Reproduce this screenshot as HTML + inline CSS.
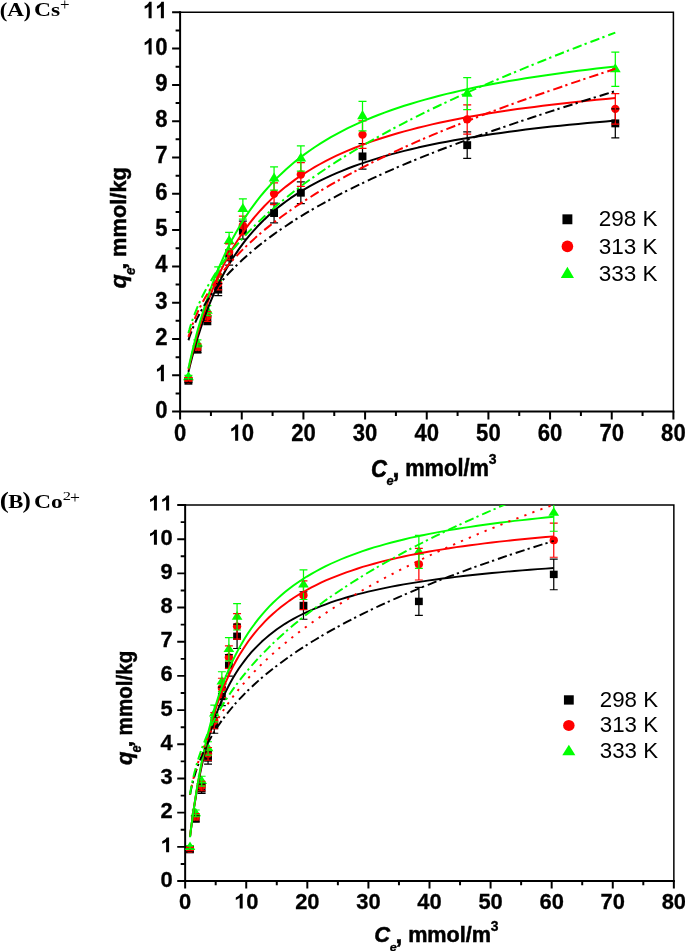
<!DOCTYPE html>
<html><head><meta charset="utf-8"><title>Adsorption isotherms</title>
<style>
html,body{margin:0;padding:0;background:#fff;}
body{width:685px;height:951px;overflow:hidden;position:relative;font-family:"Liberation Sans",sans-serif;}
svg{position:absolute;left:0;top:0;display:block;will-change:transform;}
.tl{font-family:"Liberation Sans",sans-serif;font-weight:bold;font-size:22.8px;fill:#000;stroke:#000;stroke-width:0.3px;}
.b{font-family:"Liberation Sans",sans-serif;font-weight:bold;font-size:20px;fill:#000;stroke:#000;stroke-width:0.45px;}
.bi{font-family:"Liberation Sans",sans-serif;font-weight:bold;font-style:italic;font-size:20px;fill:#000;stroke:#000;stroke-width:0.45px;}
.lg{font-family:"Liberation Sans",sans-serif;font-size:22.5px;fill:#000;}
.pl{font-family:"Liberation Serif",serif;font-weight:bold;font-size:20px;fill:#000;}
.pn{font-family:"Liberation Serif",serif;font-weight:normal;font-size:20px;fill:#000;}
</style></head><body>
<svg width="685" height="951" viewBox="0 0 685 951">
<defs><clipPath id="clipA"><rect x="180.1" y="12.3" width="493.30" height="399.30"/></clipPath></defs>
<rect width="685" height="951" fill="#fff"/>
<g id="plotA">
<path d="M180.10,12.30H673.40V411.60" stroke="#000" stroke-width="1.5" fill="none"/>
<path d="M172.10,411.60H180.10M175.60,393.45H180.10M172.10,375.30H180.10M175.60,357.15H180.10M172.10,339.00H180.10M175.60,320.85H180.10M172.10,302.70H180.10M175.60,284.55H180.10M172.10,266.40H180.10M175.60,248.25H180.10M172.10,230.10H180.10M175.60,211.95H180.10M172.10,193.80H180.10M175.60,175.65H180.10M172.10,157.50H180.10M175.60,139.35H180.10M172.10,121.20H180.10M175.60,103.05H180.10M172.10,84.90H180.10M175.60,66.75H180.10M172.10,48.60H180.10M175.60,30.45H180.10M172.10,12.30H180.10M180.10,411.60V419.60M210.93,411.60V416.10M241.76,411.60V419.60M272.59,411.60V416.10M303.42,411.60V419.60M334.26,411.60V416.10M365.09,411.60V419.60M395.92,411.60V416.10M426.75,411.60V419.60M457.58,411.60V416.10M488.41,411.60V419.60M519.24,411.60V416.10M550.07,411.60V419.60M580.91,411.60V416.10M611.74,411.60V419.60M642.57,411.60V416.10M673.40,411.60V419.60" stroke="#000" stroke-width="2" fill="none"/>
<path d="M180.10,12.30V411.60H673.40" stroke="#000" stroke-width="2" fill="none" stroke-linecap="square"/>
<text transform="translate(155.20,417.55) scale(0.97,1.0850)" class="tl">0</text>
<path transform="translate(155.20,381.25) scale(22.116,22.800)" d="M0.3936,0H0.2563V-0.517Q0.181,-0.4468 0.0791,-0.413V-0.5376Q0.1328,-0.555 0.1958,-0.604Q0.2588,-0.653 0.2822,-0.7188H0.3936Z" fill="#000"/>
<text transform="translate(155.20,344.95) scale(0.97,1.0850)" class="tl">2</text>
<text transform="translate(155.20,308.65) scale(0.97,1.0850)" class="tl">3</text>
<text transform="translate(155.20,272.35) scale(0.97,1.0850)" class="tl">4</text>
<text transform="translate(155.20,236.05) scale(0.97,1.0850)" class="tl">5</text>
<text transform="translate(155.20,199.75) scale(0.97,1.0850)" class="tl">6</text>
<text transform="translate(155.20,163.45) scale(0.97,1.0850)" class="tl">7</text>
<text transform="translate(155.20,127.15) scale(0.97,1.0850)" class="tl">8</text>
<text transform="translate(155.20,90.85) scale(0.97,1.0850)" class="tl">9</text>
<path transform="translate(142.91,54.55) scale(22.116,22.800)" d="M0.3936,0H0.2563V-0.517Q0.181,-0.4468 0.0791,-0.413V-0.5376Q0.1328,-0.555 0.1958,-0.604Q0.2588,-0.653 0.2822,-0.7188H0.3936Z" fill="#000"/><text transform="translate(155.20,54.55) scale(0.97,1.0850)" class="tl">0</text>
<path transform="translate(142.91,18.25) scale(22.116,22.800)" d="M0.3936,0H0.2563V-0.517Q0.181,-0.4468 0.0791,-0.413V-0.5376Q0.1328,-0.555 0.1958,-0.604Q0.2588,-0.653 0.2822,-0.7188H0.3936Z" fill="#000"/><path transform="translate(155.20,18.25) scale(22.116,22.800)" d="M0.3936,0H0.2563V-0.517Q0.181,-0.4468 0.0791,-0.413V-0.5376Q0.1328,-0.555 0.1958,-0.604Q0.2588,-0.653 0.2822,-0.7188H0.3936Z" fill="#000"/>
<text transform="translate(173.95,440.80) scale(0.97,1.0850)" class="tl">0</text>
<path transform="translate(229.47,440.80) scale(22.116,22.800)" d="M0.3936,0H0.2563V-0.517Q0.181,-0.4468 0.0791,-0.413V-0.5376Q0.1328,-0.555 0.1958,-0.604Q0.2588,-0.653 0.2822,-0.7188H0.3936Z" fill="#000"/><text transform="translate(241.76,440.80) scale(0.97,1.0850)" class="tl">0</text>
<text transform="translate(291.13,440.80) scale(0.97,1.0850)" class="tl">2</text><text transform="translate(303.42,440.80) scale(0.97,1.0850)" class="tl">0</text>
<text transform="translate(352.79,440.80) scale(0.97,1.0850)" class="tl">3</text><text transform="translate(365.09,440.80) scale(0.97,1.0850)" class="tl">0</text>
<text transform="translate(414.45,440.80) scale(0.97,1.0850)" class="tl">4</text><text transform="translate(426.75,440.80) scale(0.97,1.0850)" class="tl">0</text>
<text transform="translate(476.12,440.80) scale(0.97,1.0850)" class="tl">5</text><text transform="translate(488.41,440.80) scale(0.97,1.0850)" class="tl">0</text>
<text transform="translate(537.78,440.80) scale(0.97,1.0850)" class="tl">6</text><text transform="translate(550.07,440.80) scale(0.97,1.0850)" class="tl">0</text>
<text transform="translate(599.44,440.80) scale(0.97,1.0850)" class="tl">7</text><text transform="translate(611.74,440.80) scale(0.97,1.0850)" class="tl">0</text>
<text transform="translate(661.10,440.80) scale(0.97,1.0850)" class="tl">8</text><text transform="translate(673.40,440.80) scale(0.97,1.0850)" class="tl">0</text>
<g clip-path="url(#clipA)">
<rect x="184.47" y="376.80" width="7.90" height="7.90" fill="#000000"/>
<rect x="193.48" y="345.58" width="7.90" height="7.90" fill="#000000"/>
<rect x="203.40" y="316.17" width="7.90" height="7.90" fill="#000000"/>
<rect x="214.26" y="285.68" width="7.90" height="7.90" fill="#000000"/>
<rect x="225.17" y="253.38" width="7.90" height="7.90" fill="#000000"/>
<rect x="238.92" y="226.15" width="7.90" height="7.90" fill="#000000"/>
<rect x="270.12" y="209.09" width="7.90" height="7.90" fill="#000000"/>
<rect x="296.89" y="188.76" width="7.90" height="7.90" fill="#000000"/>
<rect x="358.55" y="152.46" width="7.90" height="7.90" fill="#000000"/>
<rect x="463.25" y="141.21" width="7.90" height="7.90" fill="#000000"/>
<rect x="611.36" y="119.43" width="7.90" height="7.90" fill="#000000"/>
<circle cx="188.42" cy="379.29" r="4.20" fill="#ff0000"/>
<circle cx="197.43" cy="346.99" r="4.20" fill="#ff0000"/>
<circle cx="207.35" cy="316.49" r="4.20" fill="#ff0000"/>
<circle cx="218.21" cy="283.46" r="4.20" fill="#ff0000"/>
<circle cx="229.12" cy="251.88" r="4.20" fill="#ff0000"/>
<circle cx="242.87" cy="225.38" r="4.20" fill="#ff0000"/>
<circle cx="274.07" cy="193.80" r="4.20" fill="#ff0000"/>
<circle cx="300.84" cy="174.56" r="4.20" fill="#ff0000"/>
<circle cx="362.50" cy="134.63" r="4.20" fill="#ff0000"/>
<circle cx="467.20" cy="119.38" r="4.20" fill="#ff0000"/>
<circle cx="615.31" cy="108.86" r="4.20" fill="#ff0000"/>
<path d="M188.42,371.05 L193.82,380.15 L183.02,380.15Z" fill="#00ff00"/>
<path d="M197.43,337.29 L202.83,346.39 L192.03,346.39Z" fill="#00ff00"/>
<path d="M207.35,304.62 L212.75,313.72 L201.95,313.72Z" fill="#00ff00"/>
<path d="M218.21,267.59 L223.61,276.69 L212.81,276.69Z" fill="#00ff00"/>
<path d="M229.12,234.92 L234.52,244.02 L223.72,244.02Z" fill="#00ff00"/>
<path d="M242.87,202.98 L248.27,212.08 L237.47,212.08Z" fill="#00ff00"/>
<path d="M274.07,172.49 L279.47,181.59 L268.67,181.59Z" fill="#00ff00"/>
<path d="M300.84,152.52 L306.24,161.62 L295.44,161.62Z" fill="#00ff00"/>
<path d="M362.50,110.05 L367.90,119.15 L357.10,119.15Z" fill="#00ff00"/>
<path d="M467.20,87.55 L472.60,96.65 L461.80,96.65Z" fill="#00ff00"/>
<path d="M615.31,63.22 L620.71,72.32 L609.91,72.32Z" fill="#00ff00"/>
<path d="M188.42,379.20V382.29M184.42,379.20H192.42M184.42,382.29H192.42" stroke="#000000" stroke-width="1.25" fill="none"/>
<path d="M197.43,346.42V352.63M193.43,346.42H201.43M193.43,352.63H201.43" stroke="#000000" stroke-width="1.25" fill="none"/>
<path d="M207.35,315.55V324.70M203.35,315.55H211.35M203.35,324.70H211.35" stroke="#000000" stroke-width="1.25" fill="none"/>
<path d="M218.21,283.53V295.73M214.21,283.53H222.21M214.21,295.73H222.21" stroke="#000000" stroke-width="1.25" fill="none"/>
<path d="M229.12,249.61V265.04M225.12,249.61H233.12M225.12,265.04H233.12" stroke="#000000" stroke-width="1.25" fill="none"/>
<path d="M242.87,221.03V239.17M238.87,221.03H246.87M238.87,239.17H246.87" stroke="#000000" stroke-width="1.25" fill="none"/>
<path d="M274.07,203.11V222.97M270.07,203.11H278.07M270.07,222.97H278.07" stroke="#000000" stroke-width="1.25" fill="none"/>
<path d="M300.84,181.77V203.66M296.84,181.77H304.84M296.84,203.66H304.84" stroke="#000000" stroke-width="1.25" fill="none"/>
<path d="M362.50,143.65V169.17M358.50,143.65H366.50M358.50,169.17H366.50" stroke="#000000" stroke-width="1.25" fill="none"/>
<path d="M467.20,131.84V158.48M463.20,131.84H471.20M463.20,158.48H471.20" stroke="#000000" stroke-width="1.25" fill="none"/>
<path d="M615.31,108.97V137.79M611.31,108.97H619.31M611.31,137.79H619.31" stroke="#000000" stroke-width="1.25" fill="none"/>
<path d="M188.42,377.68V380.91M184.42,377.68H192.42M184.42,380.91H192.42" stroke="#ff0000" stroke-width="1.25" fill="none"/>
<path d="M197.43,343.76V350.22M193.43,343.76H201.43M193.43,350.22H201.43" stroke="#ff0000" stroke-width="1.25" fill="none"/>
<path d="M207.35,311.74V321.25M203.35,311.74H211.35M203.35,321.25H211.35" stroke="#ff0000" stroke-width="1.25" fill="none"/>
<path d="M218.21,277.05V289.87M214.21,277.05H222.21M214.21,289.87H222.21" stroke="#ff0000" stroke-width="1.25" fill="none"/>
<path d="M229.12,243.89V259.87M225.12,243.89H233.12M225.12,259.87H233.12" stroke="#ff0000" stroke-width="1.25" fill="none"/>
<path d="M242.87,216.07V234.69M238.87,216.07H246.87M238.87,234.69H246.87" stroke="#ff0000" stroke-width="1.25" fill="none"/>
<path d="M274.07,182.91V204.69M270.07,182.91H278.07M270.07,204.69H278.07" stroke="#ff0000" stroke-width="1.25" fill="none"/>
<path d="M300.84,162.71V186.41M296.84,162.71H304.84M296.84,186.41H304.84" stroke="#ff0000" stroke-width="1.25" fill="none"/>
<path d="M362.50,120.78V148.48M358.50,120.78H366.50M358.50,148.48H366.50" stroke="#ff0000" stroke-width="1.25" fill="none"/>
<path d="M467.20,104.77V134.00M463.20,104.77H471.20M463.20,134.00H471.20" stroke="#ff0000" stroke-width="1.25" fill="none"/>
<path d="M615.31,93.72V124.00M611.31,93.72H619.31M611.31,124.00H619.31" stroke="#ff0000" stroke-width="1.25" fill="none"/>
<path d="M188.42,375.39V378.84M184.42,375.39H192.42M184.42,378.84H192.42" stroke="#00ff00" stroke-width="1.25" fill="none"/>
<path d="M197.43,339.94V346.77M193.43,339.94H201.43M193.43,346.77H201.43" stroke="#00ff00" stroke-width="1.25" fill="none"/>
<path d="M207.35,305.64V315.73M203.35,305.64H211.35M203.35,315.73H211.35" stroke="#00ff00" stroke-width="1.25" fill="none"/>
<path d="M218.21,266.76V280.56M214.21,266.76H222.21M214.21,280.56H222.21" stroke="#00ff00" stroke-width="1.25" fill="none"/>
<path d="M229.12,232.46V249.52M225.12,232.46H233.12M225.12,249.52H233.12" stroke="#00ff00" stroke-width="1.25" fill="none"/>
<path d="M242.87,198.92V219.17M238.87,198.92H246.87M238.87,219.17H246.87" stroke="#00ff00" stroke-width="1.25" fill="none"/>
<path d="M274.07,166.90V190.21M270.07,166.90H278.07M270.07,190.21H278.07" stroke="#00ff00" stroke-width="1.25" fill="none"/>
<path d="M300.84,145.94V171.24M296.84,145.94H304.84M296.84,171.24H304.84" stroke="#00ff00" stroke-width="1.25" fill="none"/>
<path d="M362.50,101.34V130.89M358.50,101.34H366.50M358.50,130.89H366.50" stroke="#00ff00" stroke-width="1.25" fill="none"/>
<path d="M467.20,77.71V109.51M463.20,77.71H471.20M463.20,109.51H471.20" stroke="#00ff00" stroke-width="1.25" fill="none"/>
<path d="M615.31,52.18V86.41M611.31,52.18H619.31M611.31,86.41H619.31" stroke="#00ff00" stroke-width="1.25" fill="none"/>
<path d="M188.4,372.0L188.5,371.7L188.6,371.1L188.9,370.0L189.3,368.5L189.7,366.5L190.3,364.2L191.0,361.5L191.8,358.5L192.7,355.1L193.7,351.4L194.8,347.5L196.0,343.3L197.3,338.8L198.8,334.2L200.3,329.5L201.9,324.6L203.7,319.5L205.5,314.4L207.5,309.3L209.5,304.1L211.7,298.9L213.9,293.6L216.3,288.4L218.8,283.3L221.4,278.1L224.1,273.1L226.8,268.1L229.7,263.2L232.7,258.3L235.9,253.6L239.1,248.9L242.4,244.4L245.8,239.9L249.3,235.6L253.0,231.4L256.7,227.3L260.6,223.3L264.5,219.4L268.6,215.6L272.7,211.9L277.0,208.3L281.4,204.9L285.9,201.5L290.5,198.2L295.1,195.1L299.9,192.0L304.8,189.1L309.9,186.2L315.0,183.4L320.2,180.7L325.5,178.1L330.9,175.6L336.5,173.2L342.1,170.8L347.8,168.5L353.7,166.3L359.7,164.1L365.7,162.1L371.9,160.1L378.2,158.1L384.5,156.2L391.0,154.4L397.6,152.6L404.3,150.9L411.1,149.3L418.0,147.6L425.0,146.1L432.1,144.6L439.3,143.1L446.7,141.7L454.1,140.3L461.6,139.0L469.3,137.7L477.0,136.4L484.9,135.2L492.8,134.0L500.9,132.9L509.1,131.8L517.3,130.7L525.7,129.6L534.2,128.6L542.8,127.6L551.5,126.6L560.3,125.7L569.2,124.8L578.2,123.9L587.3,123.0L596.6,122.2L605.9,121.4L615.3,120.6" stroke="#000000" stroke-width="2.0" fill="none" stroke-linejoin="round"/>
<path d="M188.4,369.7L188.5,369.5L188.6,368.8L188.9,367.6L189.3,366.0L189.7,363.9L190.3,361.5L191.0,358.6L191.8,355.4L192.7,351.8L193.7,347.9L194.8,343.7L196.0,339.2L197.3,334.5L198.8,329.6L200.3,324.5L201.9,319.3L203.7,313.9L205.5,308.4L207.5,302.9L209.5,297.4L211.7,291.8L213.9,286.2L216.3,280.6L218.8,275.0L221.4,269.5L224.1,264.1L226.8,258.7L229.7,253.4L232.7,248.2L235.9,243.0L239.1,238.0L242.4,233.1L245.8,228.3L249.3,223.6L253.0,219.0L256.7,214.6L260.6,210.2L264.5,206.0L268.6,201.9L272.7,197.9L277.0,194.0L281.4,190.3L285.9,186.6L290.5,183.1L295.1,179.6L299.9,176.3L304.8,173.1L309.9,170.0L315.0,166.9L320.2,164.0L325.5,161.1L330.9,158.4L336.5,155.7L342.1,153.1L347.8,150.6L353.7,148.2L359.7,145.9L365.7,143.6L371.9,141.4L378.2,139.3L384.5,137.2L391.0,135.2L397.6,133.3L404.3,131.4L411.1,129.6L418.0,127.8L425.0,126.1L432.1,124.4L439.3,122.8L446.7,121.3L454.1,119.7L461.6,118.3L469.3,116.8L477.0,115.5L484.9,114.1L492.8,112.8L500.9,111.6L509.1,110.3L517.3,109.1L525.7,108.0L534.2,106.9L542.8,105.8L551.5,104.7L560.3,103.7L569.2,102.7L578.2,101.7L587.3,100.7L596.6,99.8L605.9,98.9L615.3,98.0" stroke="#ff0000" stroke-width="2.0" fill="none" stroke-linejoin="round"/>
<path d="M188.4,368.5L188.5,368.3L188.6,367.5L188.9,366.3L189.3,364.7L189.7,362.5L190.3,360.0L191.0,357.0L191.8,353.6L192.7,349.8L193.7,345.7L194.8,341.3L196.0,336.6L197.3,331.6L198.8,326.4L200.3,321.0L201.9,315.5L203.7,309.7L205.5,303.9L207.5,298.0L209.5,292.0L211.7,286.0L213.9,279.9L216.3,273.9L218.8,267.9L221.4,261.9L224.1,255.9L226.8,250.0L229.7,244.2L232.7,238.4L235.9,232.8L239.1,227.2L242.4,221.8L245.8,216.4L249.3,211.2L253.0,206.1L256.7,201.1L260.6,196.2L264.5,191.5L268.6,186.8L272.7,182.3L277.0,177.9L281.4,173.7L285.9,169.5L290.5,165.5L295.1,161.6L299.9,157.8L304.8,154.1L309.9,150.5L315.0,147.0L320.2,143.6L325.5,140.4L330.9,137.2L336.5,134.1L342.1,131.1L347.8,128.2L353.7,125.4L359.7,122.7L365.7,120.1L371.9,117.5L378.2,115.0L384.5,112.6L391.0,110.3L397.6,108.0L404.3,105.8L411.1,103.7L418.0,101.6L425.0,99.6L432.1,97.7L439.3,95.8L446.7,93.9L454.1,92.2L461.6,90.4L469.3,88.8L477.0,87.1L484.9,85.6L492.8,84.0L500.9,82.5L509.1,81.1L517.3,79.7L525.7,78.3L534.2,77.0L542.8,75.7L551.5,74.4L560.3,73.2L569.2,72.0L578.2,70.8L587.3,69.7L596.6,68.6L605.9,67.5L615.3,66.5" stroke="#00ff00" stroke-width="2.0" fill="none" stroke-linejoin="round"/>
<path d="M188.4,340.3L188.5,340.1L188.6,339.6L188.9,338.8L189.3,337.7L189.7,336.3L190.3,334.6L191.0,332.8L191.8,330.7L192.7,328.4L193.7,326.0L194.8,323.5L196.0,320.8L197.3,318.1L198.8,315.3L200.3,312.4L201.9,309.4L203.7,306.4L205.5,303.4L207.5,300.4L209.5,297.3L211.7,294.2L213.9,291.1L216.3,288.0L218.8,284.8L221.4,281.7L224.1,278.6L226.8,275.4L229.7,272.3L232.7,269.2L235.9,266.0L239.1,262.9L242.4,259.8L245.8,256.7L249.3,253.6L253.0,250.5L256.7,247.4L260.6,244.3L264.5,241.2L268.6,238.1L272.7,235.1L277.0,232.0L281.4,229.0L285.9,226.0L290.5,222.9L295.1,219.9L299.9,216.9L304.8,213.9L309.9,210.9L315.0,208.0L320.2,205.0L325.5,202.0L330.9,199.1L336.5,196.2L342.1,193.2L347.8,190.3L353.7,187.4L359.7,184.5L365.7,181.6L371.9,178.7L378.2,175.8L384.5,172.9L391.0,170.1L397.6,167.2L404.3,164.4L411.1,161.5L418.0,158.7L425.0,155.9L432.1,153.1L439.3,150.3L446.7,147.5L454.1,144.7L461.6,141.9L469.3,139.1L477.0,136.3L484.9,133.6L492.8,130.8L500.9,128.0L509.1,125.2L517.3,122.4L525.7,119.6L534.2,116.8L542.8,114.0L551.5,111.1L560.3,108.3L569.2,105.5L578.2,102.6L587.3,99.8L596.6,96.9L605.9,94.0L615.3,91.1" stroke="#000000" stroke-width="2.0" fill="none" stroke-linejoin="round" stroke-dasharray="9.5 3.2 2.3 4"/>
<path d="M188.4,336.9L188.5,336.7L188.6,336.1L188.9,335.3L189.3,334.0L189.7,332.5L190.3,330.7L191.0,328.7L191.8,326.5L192.7,324.0L193.7,321.4L194.8,318.7L196.0,315.8L197.3,312.8L198.8,309.8L200.3,306.7L201.9,303.5L203.7,300.3L205.5,297.0L207.5,293.7L209.5,290.4L211.7,287.0L213.9,283.7L216.3,280.3L218.8,276.9L221.4,273.6L224.1,270.2L226.8,266.8L229.7,263.4L232.7,260.0L235.9,256.7L239.1,253.3L242.4,249.9L245.8,246.6L249.3,243.2L253.0,239.9L256.7,236.6L260.6,233.2L264.5,229.9L268.6,226.6L272.7,223.3L277.0,220.1L281.4,216.8L285.9,213.5L290.5,210.3L295.1,207.0L299.9,203.8L304.8,200.6L309.9,197.4L315.0,194.2L320.2,191.0L325.5,187.8L330.9,184.6L336.5,181.5L342.1,178.3L347.8,175.2L353.7,172.0L359.7,168.9L365.7,165.8L371.9,162.7L378.2,159.6L384.5,156.5L391.0,153.4L397.6,150.4L404.3,147.3L411.1,144.3L418.0,141.2L425.0,138.2L432.1,135.2L439.3,132.2L446.7,129.1L454.1,126.2L461.6,123.2L469.3,120.2L477.0,117.2L484.9,114.2L492.8,111.2L500.9,108.2L509.1,105.2L517.3,102.2L525.7,99.2L534.2,96.2L542.8,93.2L551.5,90.2L560.3,87.2L569.2,84.1L578.2,81.1L587.3,78.0L596.6,75.0L605.9,71.9L615.3,68.8" stroke="#ff0000" stroke-width="2.0" fill="none" stroke-linejoin="round" stroke-dasharray="9.5 3.2 2.3 4"/>
<path d="M188.4,333.1L188.5,332.9L188.6,332.3L188.9,331.4L189.3,330.1L189.7,328.5L190.3,326.6L191.0,324.4L191.8,322.0L192.7,319.4L193.7,316.6L194.8,313.7L196.0,310.6L197.3,307.4L198.8,304.1L200.3,300.8L201.9,297.3L203.7,293.8L205.5,290.3L207.5,286.7L209.5,283.1L211.7,279.4L213.9,275.8L216.3,272.1L218.8,268.4L221.4,264.7L224.1,260.9L226.8,257.2L229.7,253.5L232.7,249.7L235.9,246.0L239.1,242.3L242.4,238.6L245.8,234.8L249.3,231.1L253.0,227.4L256.7,223.7L260.6,220.0L264.5,216.3L268.6,212.6L272.7,208.9L277.0,205.2L281.4,201.6L285.9,197.9L290.5,194.2L295.1,190.6L299.9,186.9L304.8,183.3L309.9,179.7L315.0,176.1L320.2,172.5L325.5,168.9L330.9,165.3L336.5,161.7L342.1,158.1L347.8,154.6L353.7,151.0L359.7,147.4L365.7,143.9L371.9,140.4L378.2,136.8L384.5,133.3L391.0,129.8L397.6,126.3L404.3,122.8L411.1,119.3L418.0,115.9L425.0,112.4L432.1,108.9L439.3,105.5L446.7,102.0L454.1,98.6L461.6,95.1L469.3,91.7L477.0,88.3L484.9,84.8L492.8,81.4L500.9,78.0L509.1,74.5L517.3,71.1L525.7,67.6L534.2,64.2L542.8,60.7L551.5,57.2L560.3,53.7L569.2,50.2L578.2,46.7L587.3,43.2L596.6,39.7L605.9,36.2L615.3,32.6" stroke="#00ff00" stroke-width="2.0" fill="none" stroke-linejoin="round" stroke-dasharray="9.5 3.2 2.3 4"/>
</g>
<rect x="562.45" y="214.35" width="9.90" height="9.90" fill="#000000"/>
<circle cx="567.40" cy="246.40" r="5.80" fill="#ff0000"/>
<path d="M567.40,266.77 L574.00,278.07 L560.80,278.07Z" fill="#00ff00"/>
<text x="598.7" y="226.3" class="lg">298 K</text>
<text x="598.7" y="253.6" class="lg">313 K</text>
<text x="598.7" y="281.3" class="lg">333 K</text>
<text class="bi" transform="translate(371.09,476.76) scale(1.105,1.201)">C</text>
<text class="bi" transform="translate(386.61,485.38) scale(0.644,0.612)">e</text>
<text class="b" transform="translate(392.55,477.04) scale(1.250,1.279)">,</text>
<text class="b" transform="translate(405.18,476.23) scale(1.093,1.168)">mmol/m</text>
<text class="b" transform="translate(488.69,464.41) scale(0.703,0.738)">3</text>
<g transform="translate(126.4,287.8) rotate(-90)">
<text class="bi" transform="translate(-0.70,-0.40) scale(1.172,1.136)">q</text>
<text class="bi" transform="translate(12.80,8.86) scale(0.674,0.722)">e</text>
<text class="b" transform="translate(18.00,-0.20) scale(1.286,0.934)">,</text>
<text class="b" transform="translate(30.88,0.00) scale(1.093,1.131)">mmol/kg</text>
</g>
</g>
<g id="plotB" transform="matrix(0.99068 0 0 0.94177 6.729 493.416)">
<path d="M180.10,12.30H673.40V411.60" stroke="#000" stroke-width="1.5" fill="none"/>
<path d="M172.10,411.60H180.10M175.60,393.45H180.10M172.10,375.30H180.10M175.60,357.15H180.10M172.10,339.00H180.10M175.60,320.85H180.10M172.10,302.70H180.10M175.60,284.55H180.10M172.10,266.40H180.10M175.60,248.25H180.10M172.10,230.10H180.10M175.60,211.95H180.10M172.10,193.80H180.10M175.60,175.65H180.10M172.10,157.50H180.10M175.60,139.35H180.10M172.10,121.20H180.10M175.60,103.05H180.10M172.10,84.90H180.10M175.60,66.75H180.10M172.10,48.60H180.10M175.60,30.45H180.10M172.10,12.30H180.10M180.10,411.60V419.60M210.93,411.60V416.10M241.76,411.60V419.60M272.59,411.60V416.10M303.42,411.60V419.60M334.26,411.60V416.10M365.09,411.60V419.60M395.92,411.60V416.10M426.75,411.60V419.60M457.58,411.60V416.10M488.41,411.60V419.60M519.24,411.60V416.10M550.07,411.60V419.60M580.91,411.60V416.10M611.74,411.60V419.60M642.57,411.60V416.10M673.40,411.60V419.60" stroke="#000" stroke-width="2" fill="none"/>
<path d="M180.10,12.30V411.60H673.40" stroke="#000" stroke-width="2" fill="none" stroke-linecap="square"/>
<text transform="translate(155.20,417.44) scale(0.97,1.0470)" class="tl">0</text>
<path transform="translate(155.20,381.14) scale(22.116,22.002)" d="M0.3936,0H0.2563V-0.517Q0.181,-0.4468 0.0791,-0.413V-0.5376Q0.1328,-0.555 0.1958,-0.604Q0.2588,-0.653 0.2822,-0.7188H0.3936Z" fill="#000"/>
<text transform="translate(155.20,344.84) scale(0.97,1.0470)" class="tl">2</text>
<text transform="translate(155.20,308.55) scale(0.97,1.0470)" class="tl">3</text>
<text transform="translate(155.20,272.24) scale(0.97,1.0470)" class="tl">4</text>
<text transform="translate(155.20,235.94) scale(0.97,1.0470)" class="tl">5</text>
<text transform="translate(155.20,199.65) scale(0.97,1.0470)" class="tl">6</text>
<text transform="translate(155.20,163.34) scale(0.97,1.0470)" class="tl">7</text>
<text transform="translate(155.20,127.04) scale(0.97,1.0470)" class="tl">8</text>
<text transform="translate(155.20,90.74) scale(0.97,1.0470)" class="tl">9</text>
<path transform="translate(142.91,54.44) scale(22.116,22.002)" d="M0.3936,0H0.2563V-0.517Q0.181,-0.4468 0.0791,-0.413V-0.5376Q0.1328,-0.555 0.1958,-0.604Q0.2588,-0.653 0.2822,-0.7188H0.3936Z" fill="#000"/><text transform="translate(155.20,54.44) scale(0.97,1.0470)" class="tl">0</text>
<path transform="translate(142.91,18.14) scale(22.116,22.002)" d="M0.3936,0H0.2563V-0.517Q0.181,-0.4468 0.0791,-0.413V-0.5376Q0.1328,-0.555 0.1958,-0.604Q0.2588,-0.653 0.2822,-0.7188H0.3936Z" fill="#000"/><path transform="translate(155.20,18.14) scale(22.116,22.002)" d="M0.3936,0H0.2563V-0.517Q0.181,-0.4468 0.0791,-0.413V-0.5376Q0.1328,-0.555 0.1958,-0.604Q0.2588,-0.653 0.2822,-0.7188H0.3936Z" fill="#000"/>
<text transform="translate(173.95,440.80) scale(0.97,1.0470)" class="tl">0</text>
<path transform="translate(229.47,440.80) scale(22.116,22.002)" d="M0.3936,0H0.2563V-0.517Q0.181,-0.4468 0.0791,-0.413V-0.5376Q0.1328,-0.555 0.1958,-0.604Q0.2588,-0.653 0.2822,-0.7188H0.3936Z" fill="#000"/><text transform="translate(241.76,440.80) scale(0.97,1.0470)" class="tl">0</text>
<text transform="translate(291.13,440.80) scale(0.97,1.0470)" class="tl">2</text><text transform="translate(303.42,440.80) scale(0.97,1.0470)" class="tl">0</text>
<text transform="translate(352.79,440.80) scale(0.97,1.0470)" class="tl">3</text><text transform="translate(365.09,440.80) scale(0.97,1.0470)" class="tl">0</text>
<text transform="translate(414.45,440.80) scale(0.97,1.0470)" class="tl">4</text><text transform="translate(426.75,440.80) scale(0.97,1.0470)" class="tl">0</text>
<text transform="translate(476.12,440.80) scale(0.97,1.0470)" class="tl">5</text><text transform="translate(488.41,440.80) scale(0.97,1.0470)" class="tl">0</text>
<text transform="translate(537.78,440.80) scale(0.97,1.0470)" class="tl">6</text><text transform="translate(550.07,440.80) scale(0.97,1.0470)" class="tl">0</text>
<text transform="translate(599.44,440.80) scale(0.97,1.0470)" class="tl">7</text><text transform="translate(611.74,440.80) scale(0.97,1.0470)" class="tl">0</text>
<text transform="translate(661.10,440.80) scale(0.97,1.0470)" class="tl">8</text><text transform="translate(673.40,440.80) scale(0.97,1.0470)" class="tl">0</text>
<g clip-path="url(#clipA)">
<rect x="181.02" y="374.25" width="7.90" height="7.90" fill="#000000"/>
<rect x="186.82" y="341.58" width="7.90" height="7.90" fill="#000000"/>
<rect x="192.80" y="309.64" width="7.90" height="7.90" fill="#000000"/>
<rect x="199.27" y="276.97" width="7.90" height="7.90" fill="#000000"/>
<rect x="205.56" y="242.49" width="7.90" height="7.90" fill="#000000"/>
<rect x="213.21" y="211.63" width="7.90" height="7.90" fill="#000000"/>
<rect x="220.30" y="178.60" width="7.90" height="7.90" fill="#000000"/>
<rect x="228.56" y="147.74" width="7.90" height="7.90" fill="#000000"/>
<rect x="295.59" y="115.07" width="7.90" height="7.90" fill="#000000"/>
<rect x="412.07" y="110.72" width="7.90" height="7.90" fill="#000000"/>
<rect x="548.22" y="82.04" width="7.90" height="7.90" fill="#000000"/>
<circle cx="184.97" cy="377.48" r="4.20" fill="#ff0000"/>
<circle cx="190.77" cy="343.36" r="4.20" fill="#ff0000"/>
<circle cx="196.75" cy="310.69" r="4.20" fill="#ff0000"/>
<circle cx="203.22" cy="276.56" r="4.20" fill="#ff0000"/>
<circle cx="209.51" cy="241.35" r="4.20" fill="#ff0000"/>
<circle cx="217.16" cy="206.50" r="4.20" fill="#ff0000"/>
<circle cx="224.25" cy="173.84" r="4.20" fill="#ff0000"/>
<circle cx="232.51" cy="141.16" r="4.20" fill="#ff0000"/>
<circle cx="299.54" cy="108.13" r="4.20" fill="#ff0000"/>
<circle cx="416.02" cy="75.10" r="4.20" fill="#ff0000"/>
<circle cx="552.17" cy="49.69" r="4.20" fill="#ff0000"/>
<path d="M184.97,369.60 L190.37,378.70 L179.57,378.70Z" fill="#00ff00"/>
<path d="M190.77,333.66 L196.17,342.76 L185.37,342.76Z" fill="#00ff00"/>
<path d="M196.75,299.54 L202.15,308.64 L191.35,308.64Z" fill="#00ff00"/>
<path d="M203.22,264.69 L208.62,273.79 L197.82,273.79Z" fill="#00ff00"/>
<path d="M209.51,227.66 L214.91,236.76 L204.11,236.76Z" fill="#00ff00"/>
<path d="M217.16,193.90 L222.56,203.00 L211.76,203.00Z" fill="#00ff00"/>
<path d="M224.25,159.42 L229.65,168.52 L218.85,168.52Z" fill="#00ff00"/>
<path d="M232.51,124.93 L237.91,134.03 L227.11,134.03Z" fill="#00ff00"/>
<path d="M299.54,90.81 L304.94,99.91 L294.14,99.91Z" fill="#00ff00"/>
<path d="M416.02,55.96 L421.42,65.06 L410.62,65.06Z" fill="#00ff00"/>
<path d="M552.17,14.58 L557.57,23.68 L546.77,23.68Z" fill="#00ff00"/>
<path d="M184.97,376.53V379.87M180.97,376.53H188.97M180.97,379.87H188.97" stroke="#000000" stroke-width="1.25" fill="none"/>
<path d="M190.77,342.23V348.84M186.77,342.23H194.77M186.77,348.84H194.77" stroke="#000000" stroke-width="1.25" fill="none"/>
<path d="M196.75,308.69V318.49M192.75,308.69H200.75M192.75,318.49H200.75" stroke="#000000" stroke-width="1.25" fill="none"/>
<path d="M203.22,274.39V287.45M199.22,274.39H207.22M199.22,287.45H207.22" stroke="#000000" stroke-width="1.25" fill="none"/>
<path d="M209.51,238.18V254.69M205.51,238.18H213.51M205.51,254.69H213.51" stroke="#000000" stroke-width="1.25" fill="none"/>
<path d="M217.16,205.78V225.38M213.16,205.78H221.16M213.16,225.38H221.16" stroke="#000000" stroke-width="1.25" fill="none"/>
<path d="M224.25,171.09V194.00M220.25,171.09H228.25M220.25,194.00H228.25" stroke="#000000" stroke-width="1.25" fill="none"/>
<path d="M232.51,138.70V164.69M228.51,138.70H236.51M228.51,164.69H236.51" stroke="#000000" stroke-width="1.25" fill="none"/>
<path d="M299.54,104.39V133.65M295.54,104.39H303.54M295.54,133.65H303.54" stroke="#000000" stroke-width="1.25" fill="none"/>
<path d="M416.02,99.82V129.51M412.02,99.82H420.02M412.02,129.51H420.02" stroke="#000000" stroke-width="1.25" fill="none"/>
<path d="M552.17,69.71V102.27M548.17,69.71H556.17M548.17,102.27H556.17" stroke="#000000" stroke-width="1.25" fill="none"/>
<path d="M184.97,375.77V379.18M180.97,375.77H188.97M180.97,379.18H188.97" stroke="#ff0000" stroke-width="1.25" fill="none"/>
<path d="M190.77,339.94V346.77M186.77,339.94H194.77M186.77,346.77H194.77" stroke="#ff0000" stroke-width="1.25" fill="none"/>
<path d="M196.75,305.64V315.73M192.75,305.64H200.75M192.75,315.73H200.75" stroke="#ff0000" stroke-width="1.25" fill="none"/>
<path d="M203.22,269.81V283.32M199.22,269.81H207.22M199.22,283.32H207.22" stroke="#ff0000" stroke-width="1.25" fill="none"/>
<path d="M209.51,232.84V249.87M205.51,232.84H213.51M205.51,249.87H213.51" stroke="#ff0000" stroke-width="1.25" fill="none"/>
<path d="M217.16,196.25V216.76M213.16,196.25H221.16M213.16,216.76H221.16" stroke="#ff0000" stroke-width="1.25" fill="none"/>
<path d="M224.25,161.95V185.72M220.25,161.95H228.25M220.25,185.72H228.25" stroke="#ff0000" stroke-width="1.25" fill="none"/>
<path d="M232.51,127.64V154.69M228.51,127.64H236.51M228.51,154.69H236.51" stroke="#ff0000" stroke-width="1.25" fill="none"/>
<path d="M299.54,92.96V123.31M295.54,92.96H303.54M295.54,123.31H303.54" stroke="#ff0000" stroke-width="1.25" fill="none"/>
<path d="M416.02,58.27V91.92M412.02,58.27H420.02M412.02,91.92H420.02" stroke="#ff0000" stroke-width="1.25" fill="none"/>
<path d="M552.17,31.59V67.78M548.17,31.59H556.17M548.17,67.78H556.17" stroke="#ff0000" stroke-width="1.25" fill="none"/>
<path d="M184.97,373.87V377.46M180.97,373.87H188.97M180.97,377.46H188.97" stroke="#00ff00" stroke-width="1.25" fill="none"/>
<path d="M190.77,336.13V343.32M186.77,336.13H194.77M186.77,343.32H194.77" stroke="#00ff00" stroke-width="1.25" fill="none"/>
<path d="M196.75,300.30V310.90M192.75,300.30H200.75M192.75,310.90H200.75" stroke="#00ff00" stroke-width="1.25" fill="none"/>
<path d="M203.22,263.71V277.80M199.22,263.71H207.22M199.22,277.80H207.22" stroke="#00ff00" stroke-width="1.25" fill="none"/>
<path d="M209.51,224.84V242.62M205.51,224.84H213.51M205.51,242.62H213.51" stroke="#00ff00" stroke-width="1.25" fill="none"/>
<path d="M217.16,189.39V210.55M213.16,189.39H221.16M213.16,210.55H221.16" stroke="#00ff00" stroke-width="1.25" fill="none"/>
<path d="M224.25,153.18V177.79M220.25,153.18H228.25M220.25,177.79H228.25" stroke="#00ff00" stroke-width="1.25" fill="none"/>
<path d="M232.51,116.97V145.03M228.51,116.97H236.51M228.51,145.03H236.51" stroke="#00ff00" stroke-width="1.25" fill="none"/>
<path d="M299.54,81.14V112.62M295.54,81.14H303.54M295.54,112.62H303.54" stroke="#00ff00" stroke-width="1.25" fill="none"/>
<path d="M416.02,44.55V79.51M412.02,44.55H420.02M412.02,79.51H420.02" stroke="#00ff00" stroke-width="1.25" fill="none"/>
<path d="M552.17,1.10V40.20M548.17,1.10H556.17M548.17,40.20H556.17" stroke="#00ff00" stroke-width="1.25" fill="none"/>
<path d="M185.0,364.7L185.0,364.3L185.2,363.2L185.4,361.3L185.7,358.7L186.1,355.5L186.6,351.6L187.2,347.1L187.9,342.1L188.6,336.7L189.5,330.8L190.5,324.6L191.5,318.1L192.6,311.4L193.9,304.5L195.2,297.5L196.6,290.4L198.1,283.3L199.7,276.2L201.3,269.2L203.1,262.2L205.0,255.4L206.9,248.6L209.0,242.0L211.1,235.6L213.3,229.4L215.6,223.3L218.0,217.4L220.5,211.7L223.1,206.2L225.8,200.8L228.5,195.7L231.4,190.7L234.3,186.0L237.4,181.4L240.5,177.0L243.7,172.7L247.0,168.6L250.4,164.7L253.9,161.0L257.5,157.3L261.2,153.9L264.9,150.6L268.8,147.4L272.7,144.3L276.8,141.4L280.9,138.5L285.1,135.8L289.4,133.2L293.8,130.7L298.3,128.3L302.9,126.0L307.6,123.8L312.3,121.7L317.2,119.6L322.1,117.7L327.1,115.8L332.3,113.9L337.5,112.2L342.8,110.5L348.2,108.9L353.7,107.3L359.2,105.8L364.9,104.3L370.7,102.9L376.5,101.6L382.4,100.3L388.5,99.0L394.6,97.8L400.8,96.6L407.1,95.5L413.5,94.4L420.0,93.4L426.6,92.3L433.2,91.4L440.0,90.4L446.8,89.5L453.8,88.6L460.8,87.7L467.9,86.9L475.1,86.1L482.4,85.3L489.8,84.5L497.3,83.8L504.8,83.1L512.5,82.4L520.3,81.7L528.1,81.1L536.0,80.4L544.1,79.8L552.2,79.2" stroke="#000000" stroke-width="2.0" fill="none" stroke-linejoin="round"/>
<path d="M185.0,364.9L185.0,364.5L185.2,363.3L185.4,361.4L185.7,358.8L186.1,355.5L186.6,351.5L187.2,347.0L187.9,341.9L188.6,336.2L189.5,330.2L190.5,323.7L191.5,317.0L192.6,309.9L193.9,302.7L195.2,295.3L196.6,287.8L198.1,280.2L199.7,272.6L201.3,265.0L203.1,257.5L205.0,250.0L206.9,242.7L209.0,235.5L211.1,228.4L213.3,221.4L215.6,214.7L218.0,208.1L220.5,201.7L223.1,195.5L225.8,189.5L228.5,183.6L231.4,178.0L234.3,172.5L237.4,167.3L240.5,162.2L243.7,157.3L247.0,152.6L250.4,148.1L253.9,143.7L257.5,139.5L261.2,135.4L264.9,131.5L268.8,127.8L272.7,124.2L276.8,120.7L280.9,117.4L285.1,114.1L289.4,111.1L293.8,108.1L298.3,105.2L302.9,102.5L307.6,99.8L312.3,97.3L317.2,94.8L322.1,92.4L327.1,90.2L332.3,88.0L337.5,85.9L342.8,83.8L348.2,81.9L353.7,80.0L359.2,78.1L364.9,76.4L370.7,74.7L376.5,73.0L382.4,71.4L388.5,69.9L394.6,68.4L400.8,67.0L407.1,65.6L413.5,64.3L420.0,63.0L426.6,61.7L433.2,60.5L440.0,59.4L446.8,58.2L453.8,57.1L460.8,56.1L467.9,55.0L475.1,54.1L482.4,53.1L489.8,52.1L497.3,51.2L504.8,50.4L512.5,49.5L520.3,48.7L528.1,47.9L536.0,47.1L544.1,46.3L552.2,45.6" stroke="#ff0000" stroke-width="2.0" fill="none" stroke-linejoin="round"/>
<path d="M185.0,365.0L185.0,364.6L185.2,363.4L185.4,361.5L185.7,358.9L186.1,355.5L186.6,351.5L187.2,346.9L187.9,341.7L188.6,336.0L189.5,329.8L190.5,323.3L191.5,316.4L192.6,309.2L193.9,301.7L195.2,294.1L196.6,286.4L198.1,278.5L199.7,270.6L201.3,262.7L203.1,254.9L205.0,247.1L206.9,239.4L209.0,231.8L211.1,224.3L213.3,217.0L215.6,209.8L218.0,202.8L220.5,196.0L223.1,189.4L225.8,182.9L228.5,176.7L231.4,170.6L234.3,164.8L237.4,159.1L240.5,153.6L243.7,148.3L247.0,143.2L250.4,138.3L253.9,133.5L257.5,128.9L261.2,124.5L264.9,120.3L268.8,116.1L272.7,112.2L276.8,108.4L280.9,104.7L285.1,101.2L289.4,97.8L293.8,94.5L298.3,91.4L302.9,88.3L307.6,85.4L312.3,82.6L317.2,79.8L322.1,77.2L327.1,74.7L332.3,72.3L337.5,69.9L342.8,67.6L348.2,65.5L353.7,63.3L359.2,61.3L364.9,59.3L370.7,57.4L376.5,55.6L382.4,53.8L388.5,52.1L394.6,50.5L400.8,48.9L407.1,47.3L413.5,45.8L420.0,44.4L426.6,43.0L433.2,41.6L440.0,40.3L446.8,39.0L453.8,37.8L460.8,36.6L467.9,35.5L475.1,34.3L482.4,33.3L489.8,32.2L497.3,31.2L504.8,30.2L512.5,29.2L520.3,28.3L528.1,27.4L536.0,26.5L544.1,25.6L552.2,24.8" stroke="#00ff00" stroke-width="2.0" fill="none" stroke-linejoin="round"/>
<path d="M185.0,320.1L185.0,319.8L185.2,319.1L185.4,317.9L185.7,316.3L186.1,314.2L186.6,311.9L187.2,309.3L187.9,306.5L188.6,303.4L189.5,300.2L190.5,296.9L191.5,293.5L192.6,290.1L193.9,286.5L195.2,283.0L196.6,279.4L198.1,275.8L199.7,272.2L201.3,268.5L203.1,264.9L205.0,261.3L206.9,257.7L209.0,254.1L211.1,250.5L213.3,247.0L215.6,243.4L218.0,239.9L220.5,236.4L223.1,232.9L225.8,229.4L228.5,226.0L231.4,222.5L234.3,219.1L237.4,215.7L240.5,212.4L243.7,209.0L247.0,205.7L250.4,202.4L253.9,199.1L257.5,195.8L261.2,192.5L264.9,189.3L268.8,186.1L272.7,182.9L276.8,179.7L280.9,176.5L285.1,173.4L289.4,170.2L293.8,167.1L298.3,164.0L302.9,160.9L307.6,157.8L312.3,154.8L317.2,151.7L322.1,148.7L327.1,145.7L332.3,142.7L337.5,139.7L342.8,136.7L348.2,133.8L353.7,130.8L359.2,127.9L364.9,125.0L370.7,122.1L376.5,119.2L382.4,116.3L388.5,113.5L394.6,110.6L400.8,107.8L407.1,104.9L413.5,102.1L420.0,99.3L426.6,96.5L433.2,93.7L440.0,90.9L446.8,88.2L453.8,85.4L460.8,82.7L467.9,79.9L475.1,77.2L482.4,74.5L489.8,71.8L497.3,69.1L504.8,66.4L512.5,63.7L520.3,61.0L528.1,58.4L536.0,55.7L544.1,53.1L552.2,50.5" stroke="#000000" stroke-width="2.0" fill="none" stroke-linejoin="round" stroke-dasharray="9.5 3.2 2.3 4"/>
<path d="M185.0,320.2L185.0,320.0L185.2,319.2L185.4,317.9L185.7,316.1L186.1,313.9L186.6,311.4L187.2,308.5L187.9,305.4L188.6,302.1L189.5,298.6L190.5,295.0L191.5,291.3L192.6,287.4L193.9,283.5L195.2,279.6L196.6,275.6L198.1,271.6L199.7,267.6L201.3,263.5L203.1,259.5L205.0,255.5L206.9,251.4L209.0,247.4L211.1,243.4L213.3,239.4L215.6,235.4L218.0,231.4L220.5,227.4L223.1,223.5L225.8,219.6L228.5,215.6L231.4,211.7L234.3,207.9L237.4,204.0L240.5,200.2L243.7,196.3L247.0,192.5L250.4,188.8L253.9,185.0L257.5,181.2L261.2,177.5L264.9,173.8L268.8,170.1L272.7,166.4L276.8,162.7L280.9,159.1L285.1,155.5L289.4,151.8L293.8,148.3L298.3,144.7L302.9,141.1L307.6,137.5L312.3,134.0L317.2,130.5L322.1,127.0L327.1,123.5L332.3,120.0L337.5,116.5L342.8,113.1L348.2,109.7L353.7,106.2L359.2,102.8L364.9,99.4L370.7,96.0L376.5,92.7L382.4,89.3L388.5,86.0L394.6,82.6L400.8,79.3L407.1,76.0L413.5,72.7L420.0,69.4L426.6,66.1L433.2,62.8L440.0,59.6L446.8,56.3L453.8,53.1L460.8,49.9L467.9,46.7L475.1,43.4L482.4,40.2L489.8,37.1L497.3,33.9L504.8,30.7L512.5,27.6L520.3,24.4L528.1,21.3L536.0,18.1L544.1,15.0L552.2,11.9" stroke="#ff0000" stroke-width="2.0" fill="none" stroke-linejoin="round" stroke-dasharray="2.3 6.4"/>
<path d="M185.0,319.6L185.0,319.3L185.2,318.4L185.4,317.1L185.7,315.2L186.1,312.8L186.6,310.1L187.2,307.0L187.9,303.7L188.6,300.2L189.5,296.4L190.5,292.5L191.5,288.5L192.6,284.4L193.9,280.3L195.2,276.1L196.6,271.8L198.1,267.5L199.7,263.2L201.3,258.9L203.1,254.6L205.0,250.3L206.9,245.9L209.0,241.6L211.1,237.4L213.3,233.1L215.6,228.8L218.0,224.6L220.5,220.3L223.1,216.1L225.8,211.9L228.5,207.8L231.4,203.6L234.3,199.5L237.4,195.3L240.5,191.3L243.7,187.2L247.0,183.1L250.4,179.1L253.9,175.1L257.5,171.1L261.2,167.1L264.9,163.1L268.8,159.2L272.7,155.3L276.8,151.4L280.9,147.5L285.1,143.6L289.4,139.8L293.8,136.0L298.3,132.1L302.9,128.3L307.6,124.6L312.3,120.8L317.2,117.1L322.1,113.3L327.1,109.6L332.3,105.9L337.5,102.2L342.8,98.6L348.2,94.9L353.7,91.3L359.2,87.6L364.9,84.0L370.7,80.4L376.5,76.8L382.4,73.3L388.5,69.7L394.6,66.2L400.8,62.6L407.1,59.1L413.5,55.6L420.0,52.1L426.6,48.6L433.2,45.1L440.0,41.7L446.8,38.2L453.8,34.8L460.8,31.4L467.9,28.0L475.1,24.6L482.4,21.2L489.8,17.8L497.3,14.4L504.8,11.0L512.5,7.7L520.3,4.4L528.1,1.0L536.0,-2.3L544.1,-5.6L552.2,-8.9" stroke="#00ff00" stroke-width="2.0" fill="none" stroke-linejoin="round" stroke-dasharray="9.5 3.2 2.3 4"/>
</g>
<rect x="562.45" y="214.35" width="9.90" height="9.90" fill="#000000"/>
<circle cx="567.40" cy="246.40" r="5.80" fill="#ff0000"/>
<path d="M567.40,266.77 L574.00,278.07 L560.80,278.07Z" fill="#00ff00"/>
<text x="598.7" y="226.3" class="lg">298 K</text>
<text x="598.7" y="253.6" class="lg">313 K</text>
<text x="598.7" y="281.3" class="lg">333 K</text>
<text class="bi" transform="translate(371.09,476.76) scale(1.105,1.201)">C</text>
<text class="bi" transform="translate(386.61,485.38) scale(0.644,0.612)">e</text>
<text class="b" transform="translate(392.55,477.04) scale(1.250,1.279)">,</text>
<text class="b" transform="translate(405.18,476.23) scale(1.093,1.168)">mmol/m</text>
<text class="b" transform="translate(488.69,464.41) scale(0.703,0.738)">3</text>
<g transform="translate(126.4,287.8) rotate(-90)">
<text class="bi" transform="translate(-0.70,-0.40) scale(1.172,1.136)">q</text>
<text class="bi" transform="translate(12.80,8.86) scale(0.674,0.722)">e</text>
<text class="b" transform="translate(18.00,-0.20) scale(1.286,0.934)">,</text>
<text class="b" transform="translate(30.88,0.00) scale(1.093,1.131)">mmol/kg</text>
</g>
</g>
<text class="pl" transform="translate(-0.22,16.69) scale(1.137,1.071)">(</text>
<text class="pl" transform="translate(7.17,16.35) scale(1.156,0.943)">A</text>
<text class="pl" transform="translate(23.85,16.75) scale(1.077,1.083)">)</text>
<text class="pl" transform="translate(34.07,16.46) scale(1.176,0.974)">Cs</text>
<text class="pn" transform="translate(59.95,10.00) scale(0.849,0.840)">+</text>
<text class="pl" transform="translate(-0.24,508.33) scale(1.373,1.110)">(</text>
<text class="pl" transform="translate(8.26,507.51) scale(1.128,0.909)">B</text>
<text class="pl" transform="translate(22.55,508.39) scale(1.250,1.122)">)</text>
<text class="pl" transform="translate(34.12,508.00) scale(1.177,0.978)">Co</text>
<text class="pn" transform="translate(62.76,500.30) scale(0.825,0.674)">2</text>
<text class="pn" transform="translate(70.02,502.52) scale(0.882,0.851)">+</text>
</svg>
</body></html>
